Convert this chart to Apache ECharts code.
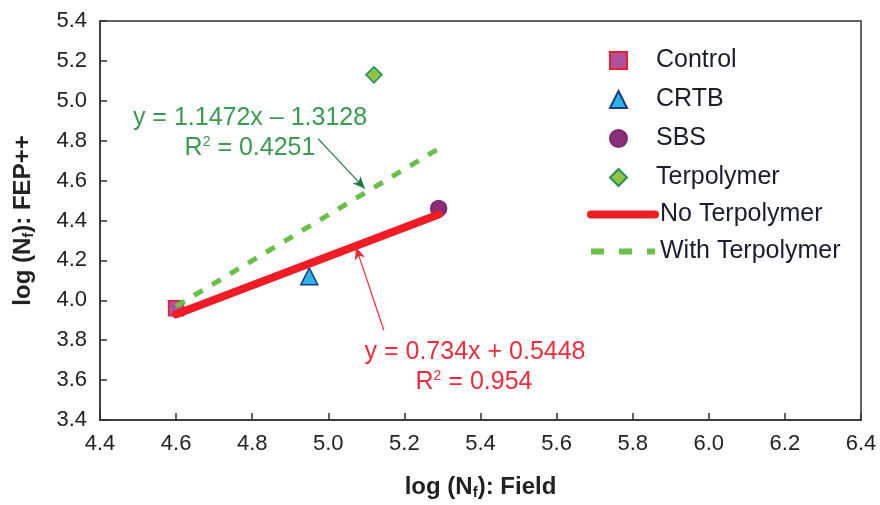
<!DOCTYPE html>
<html>
<head>
<meta charset="utf-8">
<script src="https://cdn.jsdelivr.net/npm/echarts@6/dist/echarts.min.js"></script>
<style>html,body{margin:0;padding:0;background:#fff}#c{width:880px;height:505px}</style>
</head>
<body>
<div id="c"></div>
<script>
// Data
var controlPt = [[4.60, 3.96]];
var crtbPt = [[4.95, 4.12]];
var sbsPt = [[5.29, 4.46]];
var terpPt = [[5.12, 5.13]];
var noTerpLine = [[4.60, 3.93], [5.29, 4.43]];
var withTerpLine = [[4.60, 3.97], [5.29, 4.76]];
var xTicks = [4.4, 6.4, 0.2];
var yTicks = [3.4, 5.4, 0.2];
var greenArrow = [[4.973, 4.81], [5.096, 4.56]];
var redArrow = [[5.146, 3.85], [5.073, 4.265]];

var FONT = "'Liberation Sans', Arial, sans-serif";
var chart = echarts.init(document.getElementById('c'), null, {renderer: 'canvas'});

function scatter(name, data, symbol, fill, border, size) {
  return {
    name: name, type: 'scatter', data: data, symbol: symbol, symbolSize: size,
    itemStyle: {color: fill, borderColor: border, borderWidth: 1.5, opacity: 1},
    z: 3
  };
}

chart.setOption({
  animation: false,
  textStyle: {fontFamily: FONT},
  grid: {left: 100, right: 19, top: 21, bottom: 81, show: true, borderColor: '#333', borderWidth: 1.5, backgroundColor: 'transparent'},
  xAxis: {
    type: 'value', min: xTicks[0], max: xTicks[1], interval: xTicks[2],
    axisLine: {lineStyle: {color: '#333', width: 1.5}},
    axisTick: {inside: true, length: 7, lineStyle: {color: '#333', width: 1.5}},
    splitLine: {show: false},
    axisLabel: {color: '#222', fontSize: 22, fontFamily: FONT, margin: 13, formatter: function (v) { return v.toFixed(1); }},
    name: '{b|log (N}{s|f}{b|): Field}', nameLocation: 'middle', nameGap: 55,
    nameTextStyle: {rich: {
      b: {fontSize: 24, fontWeight: 'bold', color: '#222', fontFamily: FONT},
      s: {fontSize: 15, fontWeight: 'bold', color: '#222', fontFamily: FONT, verticalAlign: 'bottom', padding: [10, 0, 0, 0]}
    }}
  },
  yAxis: {
    type: 'value', min: yTicks[0], max: yTicks[1], interval: yTicks[2],
    axisLine: {show: true, lineStyle: {color: '#333', width: 1.5}},
    axisTick: {show: true, inside: true, length: 7, lineStyle: {color: '#333', width: 1.5}},
    splitLine: {show: false},
    axisLabel: {color: '#222', fontSize: 22, fontFamily: FONT, margin: 13, formatter: function (v) { return v.toFixed(1); }},
    name: '{b|log (N}{s|f}{b|): FEP++}', nameLocation: 'middle', nameGap: 64,
    nameTextStyle: {rich: {
      b: {fontSize: 24, fontWeight: 'bold', color: '#222', fontFamily: FONT},
      s: {fontSize: 15, fontWeight: 'bold', color: '#222', fontFamily: FONT, verticalAlign: 'bottom', padding: [10, 0, 0, 0]}
    }}
  },
  legend: [
    {
      orient: 'vertical', left: 609, top: 48, padding: 0,
      itemWidth: 17, itemHeight: 17, itemGap: 14,
      textStyle: {fontSize: 25, color: '#1c1c30', fontFamily: FONT, lineHeight: 25, padding: [0, 0, 0, 24]},
      data: ['Control', 'CRTB', 'SBS', 'Terpolymer']
    },
    {
      orient: 'vertical', left: 587, top: 202, padding: 0,
      itemWidth: 64, itemHeight: 15, itemGap: 12,
      textStyle: {fontSize: 25, color: '#1c1c30', fontFamily: FONT, lineHeight: 25},
      data: [
        {name: 'No Terpolymer', itemStyle: {opacity: 0, color: 'transparent', borderWidth: 0},
          lineStyle: {color: '#ee1c25', width: 8, cap: 'round'}},
        {name: 'With Terpolymer', itemStyle: {opacity: 0, color: 'transparent', borderWidth: 0},
          lineStyle: {color: '#6abf4b', width: 6, type: [13, 15]}}
      ]
    }
  ],
  series: [
    scatter('Control', controlPt, 'rect', '#b0509e', '#e8202a', 15),
    scatter('CRTB', crtbPt, 'triangle', '#2bb5e6', '#1f3a8a', 17),
    scatter('SBS', sbsPt, 'circle', '#8a2e78', '#7a2a70', 16),
    scatter('Terpolymer', terpPt, 'diamond', '#8cc63f', '#2a8a6a', 16),
    {
      name: 'No Terpolymer', type: 'line', data: noTerpLine, symbol: 'none',
      lineStyle: {color: '#ee1c25', width: 8, cap: 'round'}, itemStyle: {color: '#ee1c25'}, z: 4,
      markLine: {
        silent: true, symbol: ['none', 'arrow'], symbolSize: [8, 12],
        lineStyle: {color: '#ee2b3b', width: 1.2, type: 'solid'}, label: {show: false},
        data: [[{coord: redArrow[0]}, {coord: redArrow[1]}]]
      }
    },
    {
      name: 'With Terpolymer', type: 'line', data: withTerpLine, symbol: 'none',
      lineStyle: {color: '#6abf4b', width: 5, type: [10, 11]}, itemStyle: {color: '#6abf4b'}, z: 4,
      markLine: {
        silent: true, symbol: ['none', 'arrow'], symbolSize: [8, 12],
        lineStyle: {color: '#1f7a45', width: 1.2, type: 'solid'}, label: {show: false},
        data: [[{coord: greenArrow[0]}, {coord: greenArrow[1]}]]
      }
    }
  ],
  graphic: [
    {type: 'text', x: 250, y: 118, style: {text: 'y = 1.1472x – 1.3128', font: '25px ' + FONT, fill: '#3a9a50', textAlign: 'center', textVerticalAlign: 'middle'}},
    {type: 'text', x: 250, y: 148, style: {text: '{a|R}{s|2}{a| = 0.4251}', textAlign: 'center', textVerticalAlign: 'middle',
      rich: {a: {fontSize: 25, fontFamily: FONT, fill: '#3a9a50'}, s: {fontSize: 14, fontFamily: FONT, fill: '#3a9a50', verticalAlign: 'top', padding: [0, 0, 12, 0]}}}},
    {type: 'text', x: 475, y: 352, style: {text: 'y = 0.734x + 0.5448', font: '25px ' + FONT, fill: '#ee2b3b', textAlign: 'center', textVerticalAlign: 'middle'}},
    {type: 'text', x: 474, y: 382, style: {text: '{a|R}{s|2}{a| = 0.954}', textAlign: 'center', textVerticalAlign: 'middle',
      rich: {a: {fontSize: 25, fontFamily: FONT, fill: '#ee2b3b'}, s: {fontSize: 14, fontFamily: FONT, fill: '#ee2b3b', verticalAlign: 'top', padding: [0, 0, 12, 0]}}}}
  ]
});
</script>
</body>
</html>
